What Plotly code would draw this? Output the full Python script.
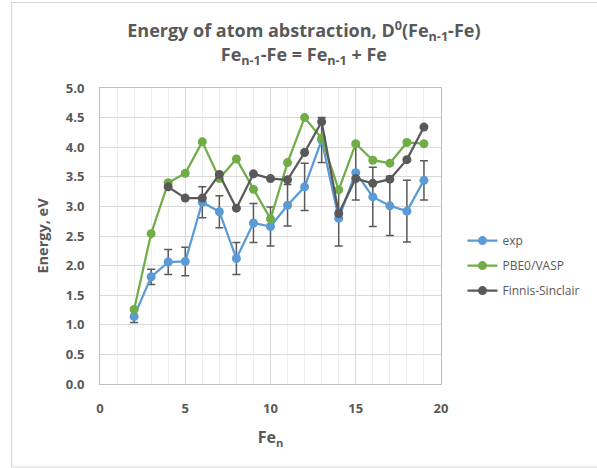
import plotly.graph_objects as go

n_exp = [2, 3, 4, 5, 6, 7, 8, 9, 10, 11, 12, 13, 14, 15, 16, 17, 18, 19]
exp_vals = [1.14, 1.81, 2.06, 2.07, 3.07, 2.91, 2.12, 2.72, 2.66, 3.02, 3.33, 4.12, 2.80, 3.57, 3.16, 3.01, 2.92, 3.44]
exp_err = [0.10, 0.13, 0.21, 0.24, 0.26, 0.27, 0.27, 0.33, 0.33, 0.35, 0.40, 0.38, 0.47, 0.46, 0.50, 0.50, 0.52, 0.33]

n_pbe = [2, 3, 4, 5, 6, 7, 8, 9, 10, 11, 12, 13, 14, 15, 16, 17, 18, 19]
pbe_vals = [1.26, 2.54, 3.40, 3.56, 4.09, 3.47, 3.80, 3.29, 2.79, 3.74, 4.50, 4.15, 3.28, 4.06, 3.78, 3.73, 4.08, 4.06]

n_fs = [4, 5, 6, 7, 8, 9, 10, 11, 12, 13, 14, 15, 16, 17, 18, 19]
fs_vals = [3.33, 3.14, 3.14, 3.54, 2.97, 3.55, 3.47, 3.45, 3.91, 4.43, 2.88, 3.47, 3.39, 3.46, 3.79, 4.34]

FONT = "Open Sans"
GREY = "#595959"

fig = go.Figure()
fig.add_trace(go.Scatter(
    x=n_exp, y=exp_vals, name="exp", mode="lines+markers", legendgroup="a",
    line=dict(color="#5B9BD5", width=2.25),
    marker=dict(color="#5B9BD5", size=9),
    error_y=dict(type="data", array=exp_err, visible=True, color=GREY, thickness=1.5, width=4),
))
fig.add_trace(go.Scatter(
    x=n_pbe, y=pbe_vals, name="PBE0/VASP", mode="lines+markers", legendgroup="b",
    line=dict(color="#70AD47", width=2.25),
    marker=dict(color="#70AD47", size=9),
))
fig.add_trace(go.Scatter(
    x=n_fs, y=fs_vals, name="Finnis-Sinclair", mode="lines+markers", legendgroup="c",
    line=dict(color=GREY, width=2.25),
    marker=dict(color=GREY, size=9),
))

fig.update_layout(
    width=597, height=468,
    margin=dict(l=100, r=150, t=88, b=84),
    paper_bgcolor="white", plot_bgcolor="white",
    font=dict(family=FONT, color=GREY),
    title=dict(
        text="Energy of atom abstraction, D<sup>0</sup>(Fe<sub>n-1</sub>-Fe)<br>Fe<sub>n-1</sub>-Fe = Fe<sub>n-1</sub> + Fe",
        x=0.509, xanchor="center", y=0.92, yanchor="top",
        font=dict(family=FONT, size=18, color=GREY, weight="bold"),
    ),
    showlegend=True,
    legend=dict(
        x=1.063, xanchor="left", y=0.40, yanchor="middle",
        font=dict(family=FONT, size=12, color=GREY),
        tracegroupgap=6, itemwidth=30,
    ),
    xaxis=dict(
        range=[0, 20], dtick=5, tick0=0,
        showgrid=True, gridcolor="#d9d9d9", gridwidth=1.3,
        minor=dict(dtick=1, showgrid=True, gridcolor="#eeeeee", gridwidth=1),
        showline=True, linecolor="#bfbfbf", linewidth=1, mirror=True,
        ticks="outside", ticklen=12, tickcolor="rgba(0,0,0,0)",
        tickfont=dict(family=FONT, size=13, color=GREY, weight="bold"),
        title=dict(text="Fe<sub>n</sub>", font=dict(family=FONT, size=16, color=GREY, weight="bold"), standoff=16),
        zeroline=False,
    ),
    yaxis=dict(
        range=[0, 5], dtick=0.5, tick0=0, tickformat=".1f",
        showgrid=True, gridcolor="#d9d9d9", gridwidth=1.3,
        showline=True, linecolor="#bfbfbf", linewidth=1, mirror=True,
        ticks="outside", ticklen=12, tickcolor="rgba(0,0,0,0)",
        tickfont=dict(family=FONT, size=13, color=GREY, weight="bold"),
        title=dict(text="Energy, eV", font=dict(family=FONT, size=14.5, color=GREY, weight="bold"), standoff=13),
        zeroline=False,
    ),
)

# chart outer border (light frame)
fig.add_shape(type="rect", xref="paper", yref="paper",
              x0=(10 - 100) / 347, x1=(640 - 100) / 347,
              y0=(384 - 467) / 296, y1=(384 - 2.5) / 296,
              line=dict(color="#d9d9d9", width=1.2), layer="below")

fig.write_html("out.html", config={"displayModeBar": False},
               post_script="document.body.style.margin='0px';")
